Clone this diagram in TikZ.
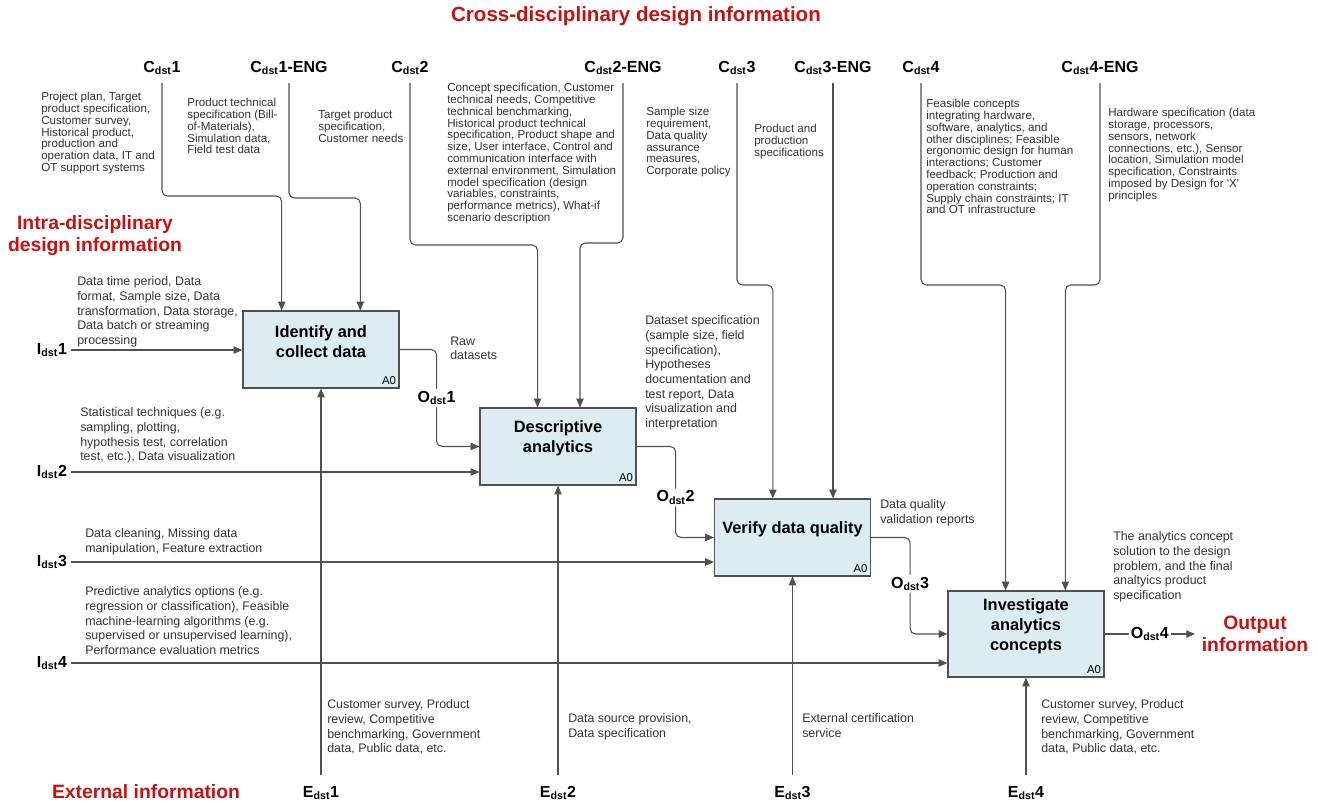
\documentclass[tikz,border=0pt]{standalone}
\usepackage{fontspec}
\setmainfont{Liberation Sans}
\usetikzlibrary{arrows.meta,positioning,calc}

\definecolor{boxfill}{RGB}{219,236,242}
\definecolor{infored}{RGB}{204,16,16}
\definecolor{linegray}{RGB}{80,80,80}

\newcommand{\dst}[2]{#1\textsubscript{dst}#2}

\tikzset{
  proc/.style={draw=linegray, fill=boxfill, line width=0.9pt, minimum width=117pt, minimum height=57.75pt, inner sep=0pt},
  ptitle/.style={align=center, font=\fontsize{12.3}{15}\selectfont\bfseries, yshift=6pt},
  zero/.style={anchor=south east, font=\fontsize{8.5}{10}\selectfont, inner sep=2.5pt},
  tag/.style={font=\fontsize{12}{14}\selectfont\bfseries, inner sep=3pt},
  otag/.style={tag, fill=white, inner sep=1.5pt},
  note/.style={anchor=north west, inner sep=0pt, align=left, text=black!80, font=\fontsize{9.3}{11}\selectfont},
  cnote/.style={note, font=\fontsize{8.7}{8.85}\selectfont},
  head/.style={text=infored, font=\fontsize{14.5}{16.5}\selectfont\bfseries, align=center},
  flow/.style={->, draw=linegray, line width=0.8pt, rounded corners=4pt}
}

\begin{document}
\begin{tikzpicture}[x=0.75pt,y=-0.75pt,>={Triangle[length=6.5pt,width=5.5pt]}]
  \useasboundingbox (0,0) rectangle (1318,803);

  \node [head,font=\fontsize{15.4}{17}\selectfont\bfseries] (hcross) at (636,16) {Cross-disciplinary design information};
  \node [head] (hintra) at (95,236)   {Intra-disciplinary\\design information};
  \node [head] (hext)   at (146,792)  {External information};
  \node [head] (hout)   at (1255,634) {Output\\information};

  \node [proc]                       (A1) at (321,349.5) {};
  \node [proc]                       (A2) at (558,446.5) {};
  \node [proc]                       (A3) at (792.5,537.5) {};
  \node [proc,minimum height=64.5pt] (A4) at (1026,634) {};

  \node [ptitle] (A1t) at (A1) {Identify and\\collect data};
  \node [ptitle] (A2t) at (A2) {Descriptive\\analytics};
  \node [ptitle] (A3t) at (A3) {Verify data quality};
  \node [ptitle] (A4t) at (A4) {Investigate\\analytics\\concepts};
  \node [zero] (A1z) at (A1.south east) {A0};
  \node [zero] (A2z) at (A2.south east) {A0};
  \node [zero] (A3z) at (A3.south east) {A0};
  \node [zero] (A4z) at (A4.south east) {A0};

  \node [tag] (c1)  at (162,68)  {\dst{C}{1}};
  \node [tag] (c1e) at (289,68)  {\dst{C}{1-ENG}};
  \node [tag] (c2)  at (410,68)  {\dst{C}{2}};
  \node [tag] (c2e) at (623,68)  {\dst{C}{2-ENG}};
  \node [tag] (c3)  at (737,68)  {\dst{C}{3}};
  \node [tag] (c3e) at (833,68)  {\dst{C}{3-ENG}};
  \node [tag] (c4)  at (921,68)  {\dst{C}{4}};
  \node [tag] (c4e) at (1100,68) {\dst{C}{4-ENG}};

  \node [tag] (i1) at (52,350) {\dst{I}{1}};
  \node [tag] (i2) at (52,472) {\dst{I}{2}};
  \node [tag] (i3) at (52,562) {\dst{I}{3}};
  \node [tag] (i4) at (52,663) {\dst{I}{4}};

  \node [tag] (e1) at (A1.south |- 0,793) {\dst{E}{1}};
  \node [tag] (e2) at (A2.south |- 0,793) {\dst{E}{2}};
  \node [tag] (e3) at (A3.south |- 0,793) {\dst{E}{3}};
  \node [tag] (e4) at (A4.south |- 0,793) {\dst{E}{4}};

  \coordinate (out4) at (1195,634);

  \draw [flow,shorten <=3pt] (c1.south)  -- (c1.south |- 0,196)  -| ($(A1.north west)!0.25!(A1.north east)$);
  \draw [flow,shorten <=3pt] (c1e.south) -- (c1e.south |- 0,198) -| ($(A1.north west)!0.75!(A1.north east)$);
  \draw [flow,shorten <=3pt] (c2.south)  -- (c2.south |- 0,245)  -| ($(A2.north west)!0.37!(A2.north east)$);
  \draw [flow,shorten <=3pt] (c2e.south) -- (c2e.south |- 0,243) -| ($(A2.north west)!0.64!(A2.north east)$);
  \draw [flow,shorten <=3pt] (c3.south)  -- (c3.south |- 0,285)  -| ($(A3.north west)!0.375!(A3.north east)$);
  \draw [flow,shorten <=3pt] (c3e.south) -- (c3e.south |- A3.north);
  \draw [flow,shorten <=3pt] (c4.south)  -- (c4.south |- 0,285)  -| ($(A4.north west)!0.37!(A4.north east)$);
  \draw [flow,shorten <=3pt] (c4e.south) -- (c4e.south |- 0,285) -| ($(A4.north west)!0.75!(A4.north east)$);

  \draw [flow] (i1.east) -- (i1.east -| A1.west);
  \draw [flow] (i2.east) -- (i2.east -| A2.west);
  \draw [flow] (i3.east) -- (i3.east -| A3.west);
  \draw [flow] (i4.east) -- (i4.east -| A4.west);

  \draw [flow,shorten <=5pt] (e1.north) -- (A1.south);
  \draw [flow,shorten <=5pt] (e2.north) -- (A2.south);
  \draw [flow,shorten <=5pt] (e3.north) -- (A3.south);
  \draw [flow,shorten <=5pt] (e4.north) -- (A4.south);

  \draw [flow] (A1.east) -- ++(37,0) |- node [otag,pos=0.25] (o1) {\dst{O}{1}} (A2.west);
  \draw [flow] (A2.east) -- ++(39,0) |- node [otag,pos=0.28] (o2) {\dst{O}{2}} (A3.west);
  \draw [flow] (A3.east) -- ++(39,0) |- node [otag,pos=0.24] (o3) {\dst{O}{3}} (A4.west);
  \draw [flow] (A4.east) -- node [otag] (o4) {\dst{O}{4}} (out4);

  \node [cnote] (nc1)  at (41,92)   {Project plan, Target\\product specification,\\Customer survey,\\Historical product,\\production and\\operation data, IT and\\OT support systems};
  \node [cnote] (nc1e) at (187,98)  {Product technical\\specification (Bill-\\of-Materials),\\Simulation data,\\Field test data};
  \node [cnote] (nc2)  at (318,110) {Target product\\specification,\\Customer needs};
  \node [cnote] (nc2e) at (447,83)  {Concept specification, Customer\\technical needs, Competitive\\technical benchmarking,\\Historical product technical\\specification, Product shape and\\size, User interface, Control and\\communication interface with\\external environment, Simulation\\model specification (design\\variables, constraints,\\performance metrics), What-if\\scenario description};
  \node [cnote] (nc3)  at (646,107) {Sample size\\requirement,\\Data quality\\assurance\\measures,\\Corporate policy};
  \node [cnote] (nc3e) at (754,124) {Product and\\production\\specifications};
  \node [cnote] (nc4)  at (926,99)  {Feasible concepts\\integrating hardware,\\software, analytics, and\\other disciplines; Feasible\\ergonomic design for human\\interactions; Customer\\feedback; Production and\\operation constraints;\\Supply chain constraints; IT\\and OT infrastructure};
  \node [cnote] (nc4e) at (1108,108) {Hardware specification (data\\storage, processors,\\sensors, network\\connections, etc.), Sensor\\location, Simulation model\\specification, Constraints\\imposed by Design for \textquotesingle X\textquotesingle\\principles};

  \node [note] (ni1) at (77,276.5) {Data time period, Data\\format, Sample size, Data\\transformation, Data storage,\\Data batch or streaming\\processing};
  \node [note] (ni2) at (80,407.5) {Statistical techniques (e.g.\\sampling, plotting,\\hypothesis test, correlation\\test, etc.), Data visualization};
  \node [note] (ni3) at (85,528.5) {Data cleaning, Missing data\\manipulation, Feature extraction};
  \node [note] (ni4) at (85,586.5) {Predictive analytics options (e.g.\\regression or classification), Feasible\\machine-learning algorithms (e.g.\\supervised or unsupervised learning),\\Performance evaluation metrics};

  \node [note] (no1) at (450,336.5)  {Raw\\datasets};
  \node [note] (no2) at (645,315.5)  {Dataset specification\\(sample size, field\\specification),\\Hypotheses\\documentation and\\test report, Data\\visualization and\\interpretation};
  \node [note] (no3) at (880,499.5)  {Data quality\\validation reports};
  \node [note] (no4) at (1113,531.5) {The analytics concept\\solution to the design\\problem, and the final\\analtyics product\\specification};

  \node [note] (ne1) at (327,699.5)  {Customer survey, Product\\review, Competitive\\benchmarking, Government\\data, Public data, etc.};
  \node [note] (ne2) at (568,713.5)  {Data source provision,\\Data specification};
  \node [note] (ne3) at (802,713.5)  {External certification\\service};
  \node [note] (ne4) at (1041,699.5) {Customer survey, Product\\review, Competitive\\benchmarking, Government\\data, Public data, etc.};
\end{tikzpicture}
\end{document}
